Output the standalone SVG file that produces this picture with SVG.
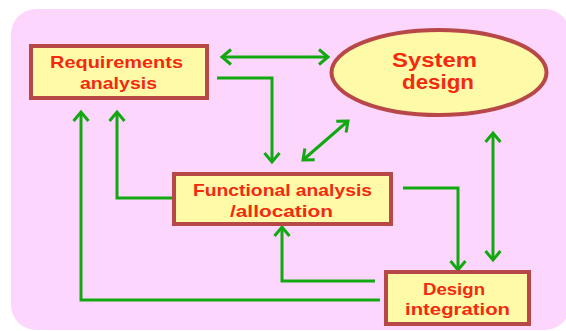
<svg xmlns="http://www.w3.org/2000/svg" width="566" height="331" viewBox="0 0 566 331">
<defs>
<style>
.box{fill:#fffaa8;stroke:#b84848;stroke-width:4}
.lbl{font-family:"Liberation Sans",Arial,sans-serif;font-weight:bold;fill:#f22a10;text-anchor:middle}
.c{fill:none;stroke:#12a812;stroke-width:3;stroke-linejoin:miter}
</style>
<marker id="ah" markerUnits="userSpaceOnUse" markerWidth="24" markerHeight="24" viewBox="-12 -12 24 24" refX="0" refY="0" orient="auto-start-reverse">
<path d="M-9,-7.5 L0,0 L-9,7.5" fill="none" stroke="#12a812" stroke-width="3"/>
</marker>
</defs>
<rect x="0" y="0" width="566" height="331" fill="#ffffff"/>
<rect x="11" y="9" width="559" height="321" rx="25" fill="#fcd6fc"/>
<g id="connectors">
<path class="c" d="M222,57 H328" marker-start="url(#ah)" marker-end="url(#ah)"/>
<path class="c" d="M217,78 H272 V162" marker-end="url(#ah)"/>
<path class="c" d="M303,160 L348,121" marker-start="url(#ah)" marker-end="url(#ah)"/>
<path class="c" d="M493,133 V260" marker-start="url(#ah)" marker-end="url(#ah)"/>
<path class="c" d="M403,188 H458 V270" marker-end="url(#ah)"/>
<path class="c" d="M375,281 H282 V227" marker-end="url(#ah)"/>
<path class="c" d="M380,300 H81 V112" marker-end="url(#ah)"/>
<path class="c" d="M172,198 H117 V112" marker-end="url(#ah)"/>
</g>
<g id="requirements">
<rect class="box" x="31" y="46" width="176" height="52"/>
<text class="lbl" x="116.5" y="68" font-size="17" textLength="133" lengthAdjust="spacingAndGlyphs">Requirements</text>
<text class="lbl" x="118.5" y="89" font-size="17" textLength="77" lengthAdjust="spacingAndGlyphs">analysis</text>
</g>
<g id="system">
<ellipse class="box" cx="439" cy="72.5" rx="107.5" ry="42.5"/>
<text class="lbl" x="434.5" y="67" font-size="20" textLength="85" lengthAdjust="spacingAndGlyphs">System</text>
<text class="lbl" x="438" y="89" font-size="20" textLength="72" lengthAdjust="spacingAndGlyphs">design</text>
</g>
<g id="functional">
<rect class="box" x="174" y="174" width="217" height="50"/>
<text class="lbl" x="282.5" y="196" font-size="17" textLength="179" lengthAdjust="spacingAndGlyphs">Functional analysis</text>
<text class="lbl" x="281.5" y="217" font-size="17" textLength="103" lengthAdjust="spacingAndGlyphs">/allocation</text>
</g>
<g id="integration">
<rect class="box" x="386" y="272" width="143" height="52"/>
<text class="lbl" x="454" y="295" font-size="16" textLength="62" lengthAdjust="spacingAndGlyphs">Design</text>
<text class="lbl" x="457.5" y="315" font-size="16" textLength="105" lengthAdjust="spacingAndGlyphs">integration</text>
</g>
</svg>
